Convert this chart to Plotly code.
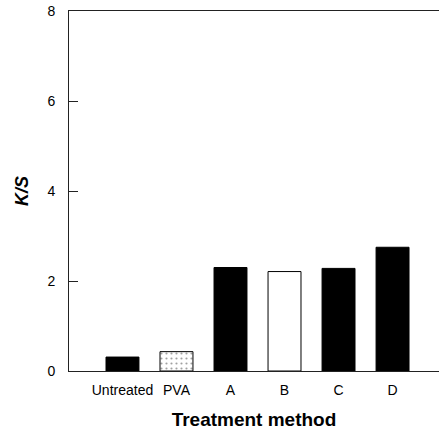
import plotly.graph_objects as go

categories = ["Untreated", "PVA", "A", "B", "C", "D"]
ks_values = [0.31, 0.43, 2.30, 2.21, 2.28, 2.75]
fill_colors = ["black", "white", "black", "white", "black", "black"]
patterns = ["", ".", "", "", "", ""]
y_ticks = [0, 2, 4, 6, 8]

xpos = list(range(len(categories)))

fig = go.Figure()
fig.add_trace(go.Bar(
    x=xpos, y=ks_values, width=0.61,
    marker=dict(color=fill_colors, line=dict(color="black", width=1),
                pattern=dict(shape=patterns, fgcolor="#888", bgcolor="white",
                             size=5, solidity=0.15)),
    showlegend=False,
))

fig.update_layout(
    width=439, height=430,
    margin=dict(l=69, r=0, t=11, b=59),
    plot_bgcolor="white", paper_bgcolor="white",
    font=dict(family="Liberation Sans, Arial, sans-serif", color="black", size=14),
    bargap=0.39,
)
fig.update_xaxes(
    range=[-0.99, 5.86], tickvals=xpos, ticktext=categories,
    showline=True, linecolor="#222", linewidth=1, mirror=True,
    ticks="", showgrid=False, zeroline=False,
    tickfont=dict(size=14), ticklabelstandoff=6,
    title=dict(text="<b>Treatment method</b>", font=dict(size=19), standoff=17),
)
fig.update_yaxes(
    range=[0, 8], tickvals=y_ticks,
    showline=True, linecolor="#222", linewidth=1,
    ticks="inside", ticklen=9, tickcolor="#222",
    showgrid=False, zeroline=False,
    tickfont=dict(size=14), ticklabelstandoff=10,
    title=dict(text="<b><i>K/S</i></b>", font=dict(size=18), standoff=14),
)

fig.write_html("out.html")
